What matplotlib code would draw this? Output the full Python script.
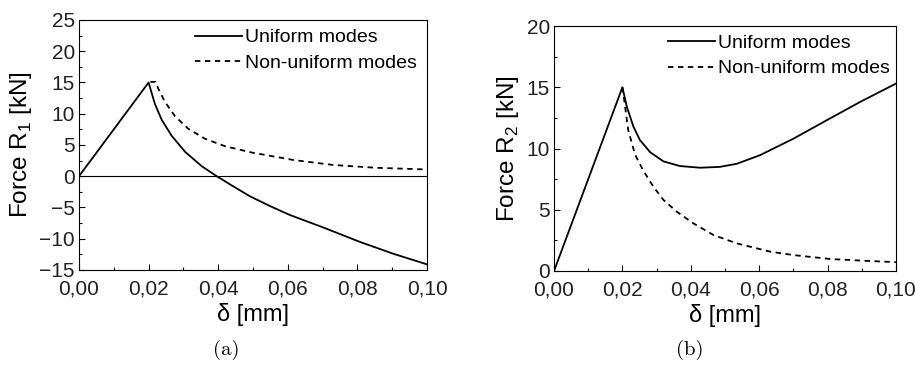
import matplotlib
matplotlib.use("Agg")
import matplotlib.pyplot as plt
from matplotlib.ticker import MultipleLocator, FuncFormatter

plt.rcParams['font.family'] = ['Liberation Sans', 'DejaVu Sans']
plt.rcParams['mathtext.fontset'] = 'custom'
plt.rcParams['mathtext.rm'] = 'Liberation Sans'

# panel (a): force R1
xa_uni = [0.0, 0.02, 0.0218, 0.0238, 0.0266, 0.0305, 0.0353, 0.0396, 0.0434, 0.0491,
          0.055, 0.0606, 0.0702, 0.0807, 0.0903, 0.10]
ya_uni = [0.0, 15.0, 11.6, 9.0, 6.5, 3.9, 1.6, 0.0, -1.3, -3.2,
          -4.8, -6.2, -8.2, -10.5, -12.4, -14.1]
xa_non = [0.0205, 0.022, 0.0228, 0.0247, 0.0276, 0.0314, 0.0362, 0.042, 0.0496,
          0.0616, 0.0731, 0.0855, 0.099, 0.10]
ya_non = [15.1, 15.1, 14.0, 11.9, 9.6, 7.6, 6.0, 4.8, 3.8,
          2.6, 1.8, 1.35, 1.1, 1.08]

# panel (b): force R2
xb_uni = [0.0, 0.02, 0.0213, 0.0232, 0.0251, 0.0281, 0.032, 0.0368, 0.0427, 0.0485,
          0.0534, 0.0602, 0.070, 0.0797, 0.0895, 0.10]
yb_uni = [0.0, 15.0, 13.4, 11.8, 10.7, 9.7, 8.95, 8.57, 8.43, 8.5,
          8.75, 9.45, 10.8, 12.3, 13.8, 15.3]
xb_non = [0.02, 0.0208, 0.0217, 0.0237, 0.0261, 0.029, 0.032, 0.0359, 0.0407, 0.0466,
          0.0534, 0.0632, 0.070, 0.0807, 0.0904, 0.10]
yb_non = [15.0, 13.4, 11.5, 9.5, 8.2, 6.9, 5.8, 4.84, 3.9, 2.94,
          2.26, 1.58, 1.3, 0.98, 0.84, 0.72]

comma = FuncFormatter(lambda v, p: ("%.2f" % v).replace(".", ","))

fig = plt.figure(figsize=(9.15, 3.69), dpi=100)
ax1 = fig.add_axes([0.0863, 0.2683, 0.3804, 0.6775])
ax2 = fig.add_axes([0.6055, 0.2656, 0.3737, 0.6639])


def style(ax, ymin, ymax, ymaj, ymin_step, ylabel):
    ax.set_xlim(0, 0.10)
    ax.set_ylim(ymin, ymax)
    ax.xaxis.set_major_locator(MultipleLocator(0.02))
    ax.xaxis.set_minor_locator(MultipleLocator(0.01))
    ax.yaxis.set_major_locator(MultipleLocator(ymaj))
    ax.yaxis.set_minor_locator(MultipleLocator(ymin_step))
    ax.xaxis.set_major_formatter(comma)
    ax.tick_params(which='both', direction='in', top=False, right=False, labelsize=15,
                   labelcolor='#222222', width=0.8)
    ax.tick_params(which='major', length=4)
    ax.tick_params(which='minor', length=2.5)
    ax.tick_params(axis='x', pad=7)
    ax.tick_params(axis='y', pad=3)
    for s in ax.spines.values():
        s.set_linewidth(0.8)
    ax.set_xlabel('\u03b4 [mm]', fontsize=17, labelpad=3)
    ax.set_ylabel(ylabel, fontsize=17.5, labelpad=4)


def legend(ax, top):
    ax.legend(loc='upper left', bbox_to_anchor=(0.333, top), frameon=False, fontsize=14,
              handlelength=2.42, handletextpad=0.16, borderpad=0, borderaxespad=0,
              labelspacing=0.42)


style(ax1, -15, 25, 5, 2.5, 'Force R$_1$ [kN]')
ax1.axhline(0, color='black', lw=0.8)
ax1.plot(xa_uni, ya_uni, color='black', lw=1.3, label='Uniform modes')
ax1.plot(xa_non, ya_non, color='black', lw=1.3, ls=(0, (3, 2.5)), label='Non-uniform modes')
legend(ax1, 0.965)

style(ax2, 0, 20, 5, 2.5, 'Force R$_2$ [kN]')
ax2.plot(xb_uni, yb_uni, color='black', lw=1.3, label='Uniform modes')
ax2.plot(xb_non, yb_non, color='black', lw=1.3, ls=(0, (3, 2.5)), label='Non-uniform modes')
legend(ax2, 0.967)

fig.text(0.247, 0.0515, '(a)', fontsize=15, family='cmr10', ha='center', va='center')
fig.text(0.754, 0.0515, '(b)', fontsize=15, family='cmr10', ha='center', va='center')

fig.savefig('out.png', dpi=100)
